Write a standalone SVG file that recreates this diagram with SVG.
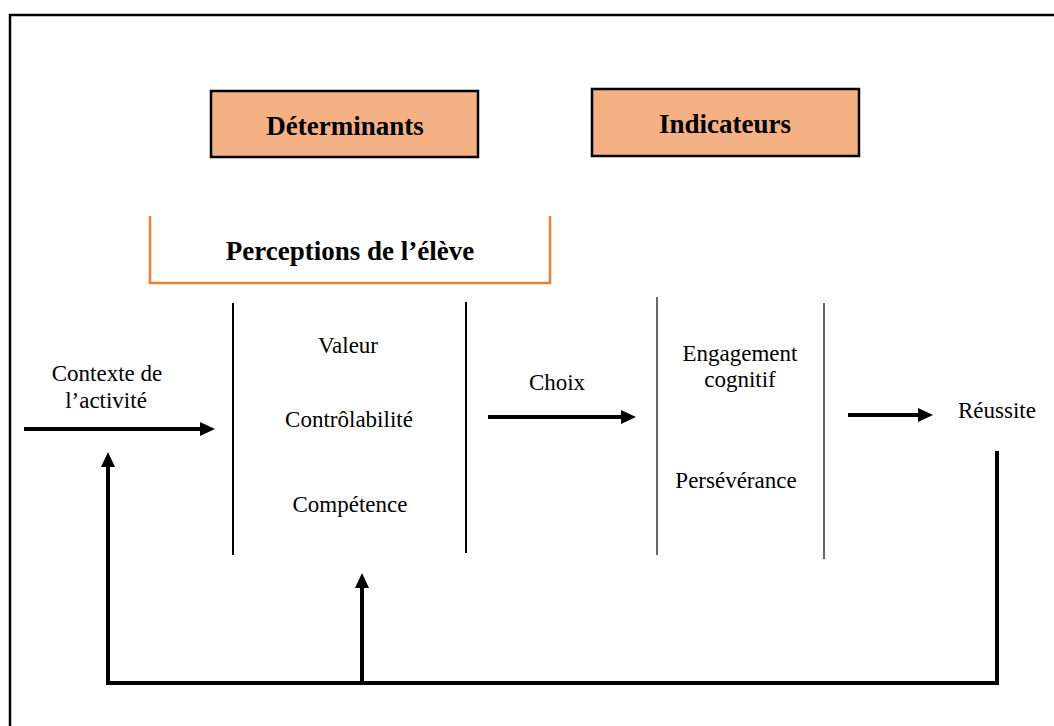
<svg xmlns="http://www.w3.org/2000/svg" width="1054" height="726" viewBox="0 0 1054 726">
<style>
.t{font-family:"Liberation Serif","Times New Roman",serif;font-size:23px;fill:#000;text-anchor:middle}
.b{font-family:"Liberation Serif","Times New Roman",serif;font-size:27px;font-weight:bold;fill:#000;text-anchor:middle}
.hdr{fill:#F4B183;stroke:#000;stroke-width:2.5}
.conn{stroke:#000;stroke-width:4;fill:none}
.div{stroke:#000;stroke-width:2}
.div2{stroke:#333;stroke-width:1.5}
</style>
<defs>
<marker id="ah" markerUnits="userSpaceOnUse" markerWidth="16" markerHeight="16" viewBox="0 0 16 16" refX="4" refY="8" orient="auto">
<path d="M0,1 L15,8 L0,15 z" fill="#000"/>
</marker>
<linearGradient id="og" x1="0" y1="0" x2="1" y2="0">
<stop offset="0" stop-color="#ED7D31"/>
<stop offset="0.3" stop-color="#ED7D31" stop-opacity="0"/>
<stop offset="0.7" stop-color="#ED7D31" stop-opacity="0"/>
<stop offset="1" stop-color="#ED7D31"/>
</linearGradient>
</defs>
<rect width="1054" height="726" fill="#fff"/>
<path d="M10,726 V15 H1054" fill="none" stroke="#000" stroke-width="2.5"/>

<g id="determinants">
<rect class="hdr" x="211" y="91" width="267" height="66"/>
<text class="b" x="345" y="135">Déterminants</text>
</g>
<g id="indicateurs">
<rect class="hdr" x="592" y="89" width="267" height="67"/>
<text class="b" x="725" y="133">Indicateurs</text>
</g>
<g id="perceptions">
<path d="M150,216 V283 H550 V216" fill="none" stroke="#ED7D31" stroke-width="2.5"/>
<line x1="150" y1="216" x2="550" y2="216" stroke="url(#og)" stroke-width="2.5"/>
<text class="b" x="350" y="260">Perceptions de l’élève</text>
</g>
<g id="contexte">
<text class="t" x="107" y="381">Contexte de</text>
<text class="t" x="106" y="408">l’activité</text>
</g>
<g id="determinants-list">
<line class="div" x1="233" y1="303" x2="233" y2="555"/>
<line class="div" x1="466" y1="302" x2="466" y2="553"/>
<text class="t" x="348" y="353">Valeur</text>
<text class="t" x="349" y="427">Contrôlabilité</text>
<text class="t" x="350" y="512">Compétence</text>
</g>
<g id="choix">
<text class="t" x="557" y="390">Choix</text>
</g>
<g id="indicateurs-list">
<line class="div2" x1="657" y1="297" x2="657" y2="555"/>
<line class="div2" x1="824" y1="303" x2="824" y2="559"/>
<text class="t" x="740" y="361">Engagement</text>
<text class="t" x="740" y="387">cognitif</text>
<text class="t" x="736" y="488">Persévérance</text>
</g>
<g id="reussite">
<text class="t" x="997" y="418">Réussite</text>
</g>
<g id="connectors">
<line class="conn" x1="24" y1="429" x2="204" y2="429" marker-end="url(#ah)"/>
<line class="conn" x1="488" y1="417" x2="625" y2="417" marker-end="url(#ah)"/>
<line class="conn" x1="848" y1="415" x2="922" y2="415" marker-end="url(#ah)"/>
<path class="conn" d="M997,451 V683 H108 V463" marker-end="url(#ah)"/>
<line class="conn" x1="362" y1="683" x2="362" y2="584" marker-end="url(#ah)"/>
</g>
</svg>
